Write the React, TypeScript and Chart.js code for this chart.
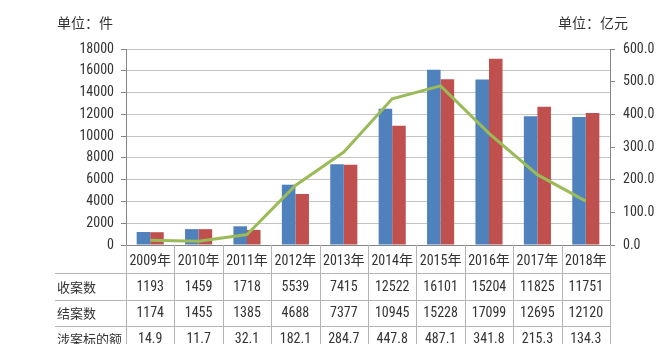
import { useEffect, useRef } from 'react';
import { Chart, registerables } from 'chart.js';

Chart.register(...registerables);

const years = ['2009年', '2010年', '2011年', '2012年', '2013年', '2014年', '2015年', '2016年', '2017年', '2018年'];
const received = [1193, 1459, 1718, 5539, 7415, 12522, 16101, 15204, 11825, 11751];
const closed = [1174, 1455, 1385, 4688, 7377, 10945, 15228, 17099, 12695, 12120];
const amount = [14.9, 11.7, 32.1, 182.1, 284.7, 447.8, 487.1, 341.8, 215.3, 134.3];
const rowLabels = ['收案数', '结案数', '涉案标的额'];
const leftUnit = '单位：件';
const rightUnit = '单位：亿元';

const NUM_FAMILY = "'Roboto Condensed', 'Liberation Sans', 'Noto Sans CJK SC'";
const NUM_FONT = `14px ${NUM_FAMILY}`;
const CJK_FONT = "13px 'Noto Sans CJK SC'";
const TEXT = '#333333';
const LINE = '#b4b4b4';

const tablePlugin = {
  id: 'dataTable',
  afterDraw(chart: any) {
    const ctx = chart.ctx as CanvasRenderingContext2D;
    const x = chart.scales.x;
    const area = chart.chartArea;
    const n = years.length;
    const w = (area.right - area.left) / n;
    const top = area.bottom;
    const clipBottom = 344;
    const rowLines = [top + 28, top + 55, top + 81];
    const textY = [top + 16, top + 42, top + 68, top + 94];

    ctx.save();
    ctx.fillStyle = TEXT;
    ctx.font = "14px 'Noto Sans CJK SC'";
    ctx.textBaseline = 'middle';
    ctx.textAlign = 'left';
    ctx.fillText(leftUnit, 57, 23);
    ctx.fillText(rightUnit, 558, 23);

    ctx.beginPath();
    ctx.rect(0, top, chart.width, clipBottom - top);
    ctx.clip();

    ctx.strokeStyle = LINE;
    ctx.lineWidth = 1;
    ctx.beginPath();
    for (let i = 0; i <= n; i++) {
      const px = Math.round(area.left + i * w) + 0.5;
      ctx.moveTo(px, top);
      ctx.lineTo(px, clipBottom + 5);
    }
    for (const ly of rowLines) {
      ctx.moveTo(55, Math.round(ly) + 0.5);
      ctx.lineTo(Math.round(area.right) + 0.5, Math.round(ly) + 0.5);
    }
    ctx.stroke();

    ctx.fillStyle = TEXT;
    ctx.textAlign = 'center';
    ctx.textBaseline = 'middle';
    const rows = [
      received.map((v) => String(v)),
      closed.map((v) => String(v)),
      amount.map((v) => v.toFixed(1)),
    ];
    for (let i = 0; i < n; i++) {
      const cx = x.getPixelForValue(i);
      ctx.font = NUM_FONT;
      ctx.fillText(years[i], cx, textY[0]);
      rows.forEach((r, ri) => ctx.fillText(r[i], cx, textY[ri + 1]));
    }
    ctx.textAlign = 'left';
    ctx.font = CJK_FONT;
    rowLabels.forEach((l, ri) => ctx.fillText(l, 57, textY[ri + 1]));
    ctx.restore();
  },
};

export default function App() {
  const ref = useRef<HTMLCanvasElement>(null);
  useEffect(() => {
    if (!ref.current) return;
    const chart = new Chart(ref.current, {
      type: 'bar',
      data: {
        labels: years,
        datasets: [
          {
            type: 'line',
            label: '涉案标的额',
            data: amount,
            yAxisID: 'y1',
            borderColor: '#9BBB59',
            borderWidth: 3,
            pointRadius: 0,
            tension: 0,
            order: 0,
          } as any,
          {
            label: '收案数',
            data: received,
            backgroundColor: '#4F81BD',
            yAxisID: 'y',
            categoryPercentage: 0.56,
            barPercentage: 1,
            order: 1,
          },
          {
            label: '结案数',
            data: closed,
            backgroundColor: '#C0504D',
            yAxisID: 'y',
            categoryPercentage: 0.56,
            barPercentage: 1,
            order: 1,
          },
        ],
      },
      options: {
        responsive: false,
        devicePixelRatio: 1,
        animation: false,
        layout: { padding: { top: 49, left: 0, right: 0, bottom: 0 } },
        plugins: { legend: { display: false }, tooltip: { enabled: false } },
        scales: {
          x: {
            ticks: { display: false },
            grid: { display: false },
            border: { display: true, color: '#868686' },
            afterFit: (s: any) => {
              s.height = 117;
            },
          },
          y: {
            position: 'left',
            min: 0,
            max: 18000,
            ticks: {
              stepSize: 2000,
              color: TEXT,
              callback: (v: any) => String(v),
              font: { family: NUM_FAMILY, size: 14 },
              padding: 7,
            },
            grid: { color: '#c4c4c4', tickColor: '#868686', tickLength: 5 },
            border: { color: '#868686' },
            afterFit: (s: any) => {
              s.width = 126;
            },
          },
          y1: {
            position: 'right',
            min: 0,
            max: 600,
            ticks: {
              stepSize: 100,
              color: TEXT,
              callback: (v: any) => Number(v).toFixed(1),
              font: { family: NUM_FAMILY, size: 14 },
              padding: 8,
            },
            grid: { drawOnChartArea: false, tickColor: '#868686', tickLength: 5 },
            border: { color: '#868686' },
            afterFit: (s: any) => {
              s.width = 60;
            },
          },
        },
      },
      plugins: [tablePlugin],
    });
    return () => chart.destroy();
  }, []);
  return (
    <div style={{ position: 'fixed', left: 0, top: 0, width: 670, height: 362, background: '#fff' }}>
      <canvas ref={ref} width={670} height={362} style={{ display: 'block' }} />
    </div>
  );
}
